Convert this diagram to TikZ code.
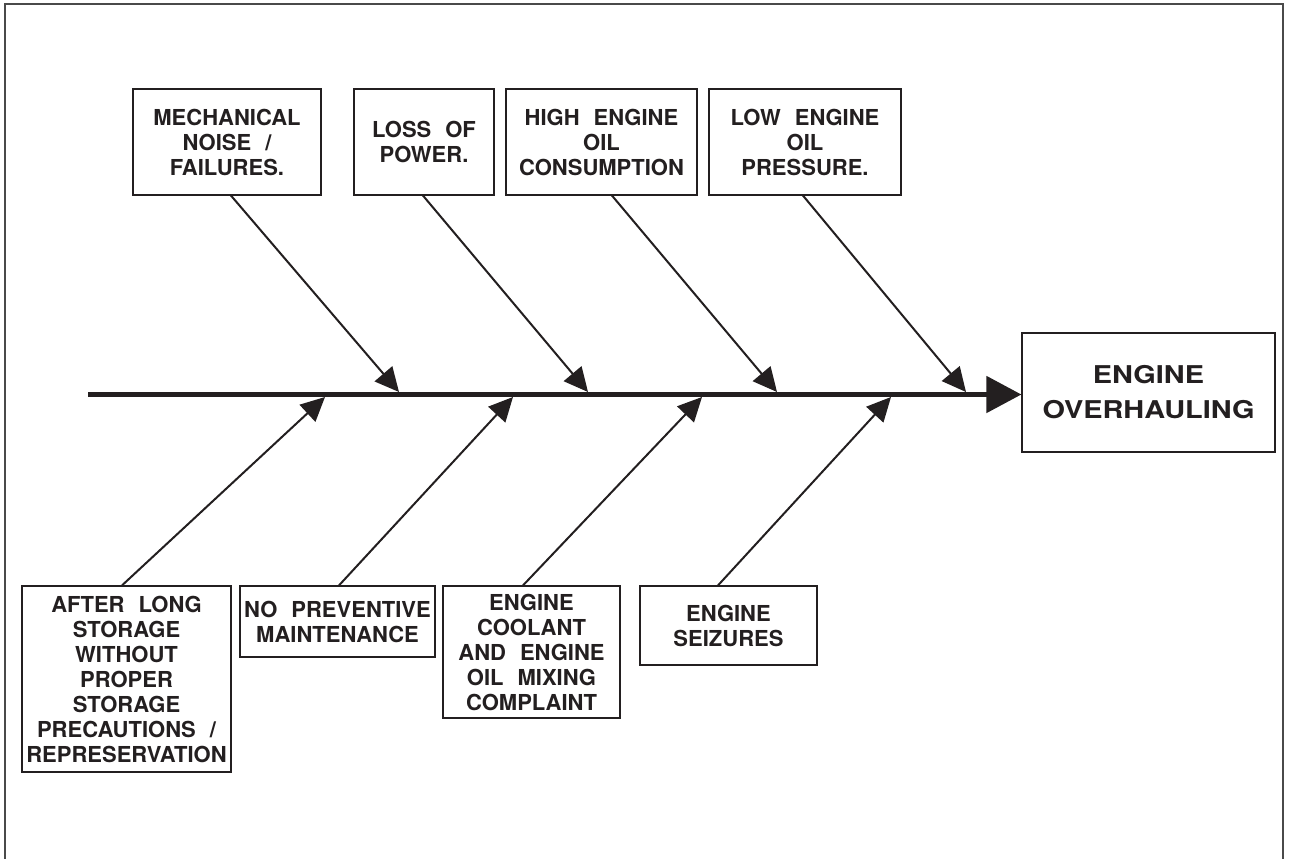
\documentclass[tikz,border=0pt]{standalone}
\usepackage{fontspec}
\setmainfont{TeX Gyre Heros}
\newfontfamily\headfont{TeX Gyre Heros}[FakeStretch=1.18]
\usetikzlibrary{arrows.meta}
\definecolor{ink}{HTML}{231F20}
\definecolor{framegray}{HTML}{4A4A4A}
% wide gap between words inside the cause boxes
\newcommand{\wsp}{\hspace{14pt}}
\begin{document}
\begin{tikzpicture}[x=1pt,y=-1pt,
  box/.style={draw=ink,line width=1.2pt,rectangle,inner sep=0pt,align=center,
    text=ink,font=\bfseries\fontsize{22}{25}\selectfont},
  headbox/.style={draw=ink,line width=1.2pt,rectangle,inner sep=0pt,align=center,
    text=ink,font=\headfont\bfseries\fontsize{24.5}{35}\selectfont},
  branch/.style={draw=ink,line width=2pt,-{Triangle[length=24pt,width=23pt]}},
  spine/.style={draw=ink,line width=5pt,-{Triangle[length=35pt,width=36pt]}}]
\useasboundingbox (0,0) rectangle (1290,859);

% outer frame (open at the bottom)
\draw[line width=2pt,draw=framegray] (5,870) -- (5,4) -- (1283,4) -- (1283,870);

% effect
\node[headbox,minimum width=253pt,minimum height=119pt] (eo) at (1148.5,392.5)
  {ENGINE\\OVERHAULING};

% upper causes
\node[box,minimum width=188pt,minimum height=106pt] (m1) at (227,142)
  {MECHANICAL\\NOISE\wsp/\\FAILURES.};
\node[box,minimum width=140pt,minimum height=106pt] (m2) at (424,142)
  {LOSS\wsp OF\\POWER.};
\node[box,minimum width=191pt,minimum height=106pt] (m3) at (601.5,142)
  {HIGH\wsp ENGINE\\OIL\\CONSUMPTION};
\node[box,minimum width=192pt,minimum height=106pt] (m4) at (805,142)
  {LOW\wsp ENGINE\\OIL\\PRESSURE.};

% lower causes
\node[box,minimum width=209pt,minimum height=186pt] (b1) at (126.5,679)
  {AFTER\wsp LONG\\STORAGE\\WITHOUT\\PROPER\\STORAGE\\PRECAUTIONS\wsp/\\REPRESERVATION};
\node[box,minimum width=195pt,minimum height=71pt] (b2) at (337.5,621.5)
  {NO\wsp PREVENTIVE\\MAINTENANCE};
\node[box,minimum width=177pt,minimum height=132pt] (b3) at (531.5,652)
  {ENGINE\\COOLANT\\AND\wsp ENGINE\\OIL\wsp MIXING\\COMPLAINT};
\node[box,minimum width=177pt,minimum height=79pt] (b4) at (728.5,625.5)
  {ENGINE\\SEIZURES};

% spine
\coordinate (s0) at (88,394.5);
\draw[spine] (s0) -- (eo.west |- s0);

% points where the branches meet the spine
\coordinate (t1) at (399,392);
\coordinate (t2) at (588,392);
\coordinate (t3) at (777,392);
\coordinate (t4) at (966,392);
\coordinate (u1) at (325,397);
\coordinate (u2) at (513,397);
\coordinate (u3) at (702,397);
\coordinate (u4) at (891,397);

% branches
\draw[branch] ([xshift=4pt]m1.south) -- (t1);
\draw[branch] ([xshift=-1pt]m2.south) -- (t2);
\draw[branch] ([xshift=10.5pt]m3.south) -- (t3);
\draw[branch] ([xshift=-2pt]m4.south) -- (t4);
\draw[branch] ([xshift=-4.5pt]b1.north) -- (u1);
\draw[branch] ([xshift=1.5pt]b2.north) -- (u2);
\draw[branch] ([xshift=-8.5pt]b3.north) -- (u3);
\draw[branch] ([xshift=-10.5pt]b4.north) -- (u4);
\end{tikzpicture}
\end{document}
